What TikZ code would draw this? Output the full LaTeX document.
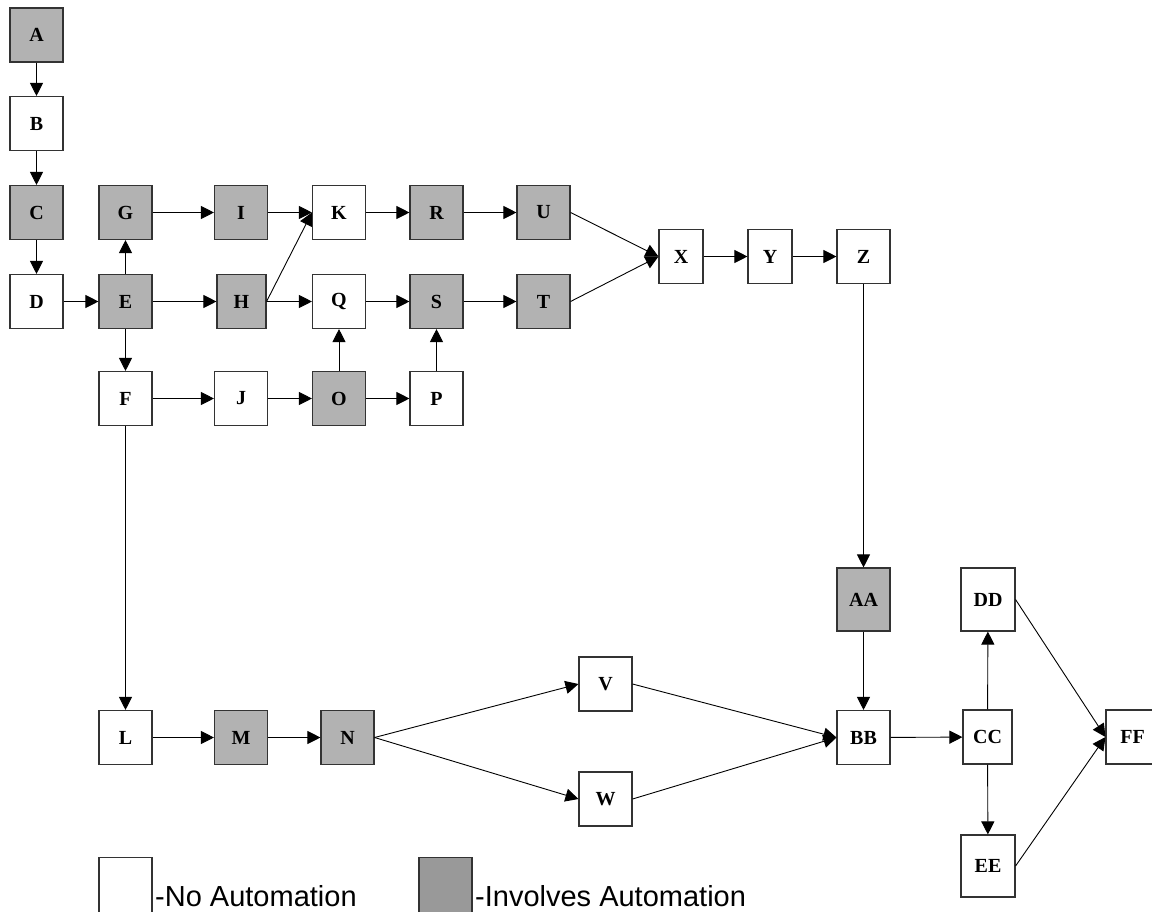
\documentclass[tikz,border=0pt]{standalone}
\usepackage{fontspec}
\usetikzlibrary{arrows.meta}
\newfontfamily\lblfont{Liberation Serif}
\newfontfamily\legfont{Liberation Sans}
\begin{document}
\begin{tikzpicture}[x=1pt,y=-1pt,
  box/.style={draw=black!80, line width=1.1pt, minimum width=53pt, minimum height=54pt,
    inner sep=0pt, font=\lblfont\bfseries\fontsize{20}{20}\selectfont},
  plainbox/.style={box, fill=white},
  autobox/.style={box, fill=black!30},
  flow/.style={-{Triangle[length=13pt,width=13pt]}, line width=0.9pt, draw=black},
  legtext/.style={anchor=base west, inner sep=0pt, font=\legfont\fontsize{29}{29}\selectfont}]
\useasboundingbox (0,0) rectangle (1152,911);

% first column
\node[autobox]  (A) at (36.5,35)    {A};
\node[plainbox] (B) at (36.5,123.5) {B};
\node[autobox]  (C) at (36.5,212.5) {C};
\node[plainbox] (D) at (36.5,301.5) {D};

% second column
\node[autobox]  (G) at (125.5,212.5) {G};
\node[autobox]  (E) at (125.5,301.5) {E};
\node[plainbox] (F) at (125.5,398.5) {F};

% grid of tasks
\node[autobox]  (I) at (241,212.5) {I};
\node[autobox, minimum width=49pt] (H) at (241.5,301.5) {H};
\node[plainbox] (J) at (241,398.5) {J};
\node[plainbox] (K) at (339,212.5) {K};
\node[plainbox] (Q) at (339,301.5) {Q};
\node[autobox]  (O) at (339,398.5) {O};
\node[autobox]  (R) at (436.5,212.5) {R};
\node[autobox]  (S) at (436.5,301.5) {S};
\node[plainbox] (P) at (436.5,398.5) {P};
\node[autobox]  (U) at (543.5,212.5) {U};
\node[autobox]  (T) at (543.5,301.5) {T};

% upper right chain
\node[plainbox, minimum width=44pt] (X) at (681,256.5) {X};
\node[plainbox, minimum width=44pt] (Y) at (770,256.5) {Y};
\node[plainbox] (Z) at (863.5,256.5) {Z};
\node[autobox, minimum height=63pt] (AA) at (863.5,599.5) {AA};

% lower chain
\node[plainbox] (L) at (125.5,737.5) {L};
\node[autobox]  (M) at (241,737.5) {M};
\node[autobox]  (N) at (347.5,737.5) {N};
\node[plainbox] (V) at (605.5,684) {V};
\node[plainbox] (W) at (605.5,799) {W};
\node[plainbox] (BB) at (863.5,737.5) {BB};
\node[plainbox, minimum width=49pt] (CC) at (987.5,737) {CC};
\node[plainbox, minimum width=54pt, minimum height=63pt] (DD) at (988,599.5) {DD};
\node[plainbox, minimum width=54pt, minimum height=62pt] (EE) at (988,866) {EE};
\node[plainbox] (FF) at (1132.5,737) {FF};

% connectors
\draw[flow] (A) -- (B);
\draw[flow] (B) -- (C);
\draw[flow] (C) -- (D);
\draw[flow] (D) -- (E);
\draw[flow] (E) -- (G);
\draw[flow] (E) -- (H);
\draw[flow] (E) -- (F);
\draw[flow] (G) -- (I);
\draw[flow] (I) -- (K);
\draw[flow] (H.east) -- (K.west);
\draw[flow] (H) -- (Q);
\draw[flow] (F) -- (J);
\draw[flow] (J) -- (O);
\draw[flow] (O) -- (P);
\draw[flow] (O) -- (Q);
\draw[flow] (P) -- (S);
\draw[flow] (K) -- (R);
\draw[flow] (R) -- (U);
\draw[flow] (Q) -- (S);
\draw[flow] (S) -- (T);
\draw[flow] (U.east) -- (X.west);
\draw[flow] (T.east) -- (X.west);
\draw[flow] (X) -- (Y);
\draw[flow] (Y) -- (Z);
\draw[flow] (Z) -- (AA);
\draw[flow] (F) -- (L);
\draw[flow] (L) -- (M);
\draw[flow] (M) -- (N);
\draw[flow] (N.east) -- (V.west);
\draw[flow] (N.east) -- (W.west);
\draw[flow] (V.east) -- (BB.west);
\draw[flow] (W.east) -- (BB.west);
\draw[flow] (AA) -- (BB);
\draw[flow] (BB) -- (CC);
\draw[flow] (CC) -- (DD);
\draw[flow] (CC) -- (EE);
\draw[flow] (DD.east) -- (FF.west);
\draw[flow] (EE.east) -- (FF.west);

% legend
\node[box, fill=white, minimum height=55pt] (legplain) at (125.5,885) {};
\node[legtext] (legplaintext) at (155,906) {-No Automation};
\node[box, fill=black!40, minimum height=55pt] (legauto) at (445.5,885) {};
\node[legtext] (legautotext) at (475,906) {-Involves Automation};
\end{tikzpicture}
\end{document}
